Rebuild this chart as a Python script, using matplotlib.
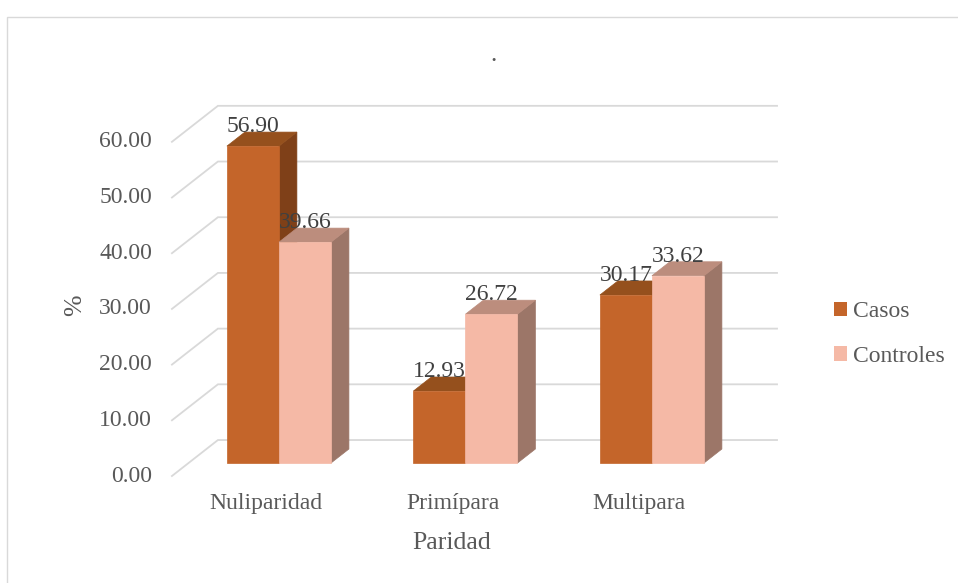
import numpy as np
import matplotlib
matplotlib.use("Agg")
import matplotlib.pyplot as plt
from matplotlib.patches import Polygon, Rectangle, Patch

plt.rcParams['font.family'] = ['Liberation Serif', 'DejaVu Serif']

categorias = ['Nuliparidad', 'Primípara', 'Multipara']
casos = [56.90, 12.93, 30.17]
controles = [39.66, 26.72, 33.62]
series = ['Casos', 'Controles']
yticks = [0, 10, 20, 30, 40, 50, 60]

# colores: frente, tapa, lateral
col_casos = ('#C4652A', '#95501D', '#7F4018')
col_controles = ('#F5B9A6', '#BC8D7D', '#9C7668')
txt = '#595959'

# perspectiva oblicua (en unidades de datos)
KX = 0.2466      # desplazamiento horizontal hasta la pared del fondo
KY = 6.46        # desplazamiento vertical hasta la pared del fondo
F = 0.36         # profundidad de la cara frontal de las barras
B = 0.75         # profundidad de la cara trasera
W = 0.279        # ancho de barra
X_LEFT, X_RIGHT = -0.485, 2.513

fig = plt.figure(figsize=(9.58, 5.83), dpi=100)
ax = fig.add_axes([0, 0, 1, 1])
ax.set_xlim(-1.407, 3.730)
ax.set_ylim(-19.21, 85.46)
ax.axis('off')

# marco del grafico
fig.patches.append(Rectangle((7 / 958, -0.1), 1.2, 1.1 - 17 / 583, transform=fig.transFigure,
                             fill=False, edgecolor='#D9D9D9', linewidth=1.0))


def proj(x, v, d):
    return x + d * KX, v + d * KY


# lineas de division: diagonal en el suelo/lateral y horizontal en el fondo
for v in yticks:
    x0, y0 = proj(X_LEFT, v, 0)
    x1, y1 = proj(X_LEFT, v, 1)
    x2, y2 = proj(X_RIGHT, v, 1)
    ax.plot([x0, x1, x2], [y0, y1, y2], color='#D9D9D9', linewidth=1.3, zorder=1,
            solid_joinstyle='miter')
    ax.text(-0.592, v, '%.2f' % v, ha='right', va='center', fontsize=17, color=txt)


def barra3d(xl, h, cols):
    front, top, side = cols
    sx = [proj(xl + W, 0, F), proj(xl + W, 0, B), proj(xl + W, h, B), proj(xl + W, h, F)]
    ax.add_patch(Polygon(sx, closed=True, facecolor=side, edgecolor=side, linewidth=0.5, zorder=3))
    tp = [proj(xl, h, F), proj(xl + W, h, F), proj(xl + W, h, B), proj(xl, h, B)]
    ax.add_patch(Polygon(tp, closed=True, facecolor=top, edgecolor=top, linewidth=0.5, zorder=3))
    ax.bar(xl + F * KX, h, width=W, bottom=F * KY, align='edge', color=front,
           edgecolor=front, linewidth=0.5, zorder=3)


for i in range(len(categorias)):
    barra3d(i - W, casos[i], col_casos)
    barra3d(i, controles[i], col_controles)

# etiquetas de valor
for i in range(len(categorias)):
    for xl, val in ((i - W, casos[i]), (i, controles[i])):
        ax.text(xl + W / 2 + F * KX, val + B * KY, '%.2f' % val, ha='center', va='baseline',
                fontsize=17, color='#404040', zorder=5)

for i, c in enumerate(categorias):
    ax.text(i + 0.02, -4.85, c, ha='center', va='center', fontsize=17, color=txt)

ax.text(1.017, -12.0, 'Paridad', ha='center', va='center', fontsize=18.5, color=txt)
ax.text(-1.005, 30.7, '%', ha='center', va='center', rotation=90, fontsize=18.5, color=txt)
ax.text(1.237, 75.5, '.', ha='center', va='center', fontsize=18, color=txt)

handles = [Patch(facecolor=col_casos[0], edgecolor='none'),
           Patch(facecolor=col_controles[0], edgecolor='none')]
fig.legend(handles, series, loc='center left', bbox_to_anchor=(834 / 958, 1 - 334 / 583),
           frameon=False, fontsize=17, handlelength=0.55, handleheight=0.55,
           handletextpad=0.25, labelspacing=1.0, labelcolor=txt,
           borderpad=0, borderaxespad=0)

fig.savefig('out.png', dpi=100)
